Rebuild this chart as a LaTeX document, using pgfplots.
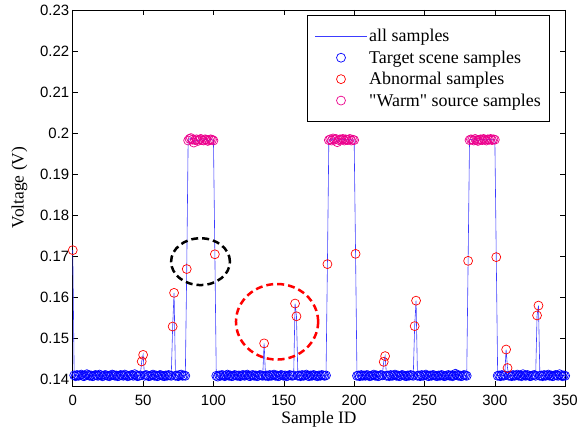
\documentclass[border=0pt]{standalone}
\usepackage{fontspec}
\setmainfont{Liberation Serif}[Ligatures=TeXOff]
\setsansfont{Liberation Sans}
\usepackage{pgfplots}
\usepackage{pgfplotstable}
\pgfplotsset{compat=1.18}

\pgfplotstableread[row sep=\\]{
x y c\\
0 0.1715 1\\ 1 0.1410 0\\ 2 0.1408 0\\ 3 0.1411 0\\ 4 0.1409 0\\ 5 0.1410 0\\ 6 0.1412 0\\ 7 0.1409 0\\ 8 0.1408 0\\ 9 0.1410 0\\
10 0.1413 0\\ 11 0.1411 0\\ 12 0.1409 0\\ 13 0.1410 0\\ 14 0.1408 0\\ 15 0.1409 0\\ 16 0.1411 0\\ 17 0.1410 0\\ 18 0.1409 0\\ 19 0.1412 0\\
20 0.1410 0\\ 21 0.1408 0\\ 22 0.1409 0\\ 23 0.1411 0\\ 24 0.1410 0\\ 25 0.1409 0\\ 26 0.1408 0\\ 27 0.1410 0\\ 28 0.1412 0\\ 29 0.1411 0\\
30 0.1409 0\\ 31 0.1410 0\\ 32 0.1408 0\\ 33 0.1409 0\\ 34 0.1411 0\\ 35 0.1410 0\\ 36 0.1409 0\\ 37 0.1412 0\\ 38 0.1410 0\\ 39 0.1408 0\\
40 0.1409 0\\ 41 0.1410 0\\ 42 0.1411 0\\ 43 0.1409 0\\ 44 0.1413 0\\ 45 0.1410 0\\ 46 0.1408 0\\ 47 0.1409 0\\ 48 0.1410 0\\ 49 0.1444 1\\
50 0.1460 1\\ 51 0.1409 0\\ 52 0.1411 0\\ 53 0.1410 0\\ 54 0.1408 0\\ 55 0.1409 0\\ 56 0.1410 0\\ 57 0.1412 0\\ 58 0.1409 0\\ 59 0.1410 0\\
60 0.1408 0\\ 61 0.1409 0\\ 62 0.1411 0\\ 63 0.1410 0\\ 64 0.1409 0\\ 65 0.1408 0\\ 66 0.1410 0\\ 67 0.1409 0\\ 68 0.1411 0\\ 69 0.1410 0\\
70 0.1409 0\\ 71 0.1529 1\\ 72 0.1611 1\\ 73 0.1409 0\\ 74 0.1410 0\\ 75 0.1408 0\\ 76 0.1411 0\\ 77 0.1412 0\\ 78 0.1409 0\\ 79 0.1410 0\\
80 0.1409 0\\ 81 0.1669 1\\ 82 0.1982 2\\ 83 0.1986 2\\ 84 0.1988 2\\ 85 0.1984 2\\ 86 0.1977 2\\ 87 0.1983 2\\ 88 0.1985 2\\ 89 0.1981 2\\
90 0.1984 2\\ 91 0.1986 2\\ 92 0.1983 2\\ 93 0.1982 2\\ 94 0.1985 2\\ 95 0.1984 2\\ 96 0.1981 2\\ 97 0.1983 2\\ 98 0.1985 2\\ 99 0.1984 2\\
100 0.1982 2\\ 101 0.1705 1\\ 102 0.1409 0\\ 103 0.1407 0\\ 104 0.1410 0\\ 105 0.1409 0\\ 106 0.1411 0\\ 107 0.1410 0\\ 108 0.1408 0\\ 109 0.1410 0\\
110 0.1412 0\\ 111 0.1409 0\\ 112 0.1410 0\\ 113 0.1408 0\\ 114 0.1409 0\\ 115 0.1411 0\\ 116 0.1410 0\\ 117 0.1409 0\\ 118 0.1410 0\\ 119 0.1408 0\\
120 0.1410 0\\ 121 0.1411 0\\ 122 0.1409 0\\ 123 0.1410 0\\ 124 0.1412 0\\ 125 0.1409 0\\ 126 0.1408 0\\ 127 0.1410 0\\ 128 0.1411 0\\ 129 0.1409 0\\
130 0.1410 0\\ 131 0.1408 0\\ 132 0.1409 0\\ 133 0.1411 0\\ 134 0.1410 0\\ 135 0.1409 0\\ 136 0.1488 1\\ 137 0.1409 0\\ 138 0.1410 0\\ 139 0.1408 0\\
140 0.1411 0\\ 141 0.1409 0\\ 142 0.1410 0\\ 143 0.1412 0\\ 144 0.1409 0\\ 145 0.1410 0\\ 146 0.1408 0\\ 147 0.1409 0\\ 148 0.1411 0\\ 149 0.1410 0\\
150 0.1409 0\\ 151 0.1410 0\\ 152 0.1408 0\\ 153 0.1409 0\\ 154 0.1411 0\\ 155 0.1410 0\\ 156 0.1409 0\\ 157 0.1410 0\\ 158 0.1585 1\\ 159 0.1554 1\\
160 0.1409 0\\ 161 0.1410 0\\ 162 0.1408 0\\ 163 0.1411 0\\ 164 0.1409 0\\ 165 0.1410 0\\ 166 0.1412 0\\ 167 0.1409 0\\ 168 0.1408 0\\ 169 0.1410 0\\
170 0.1409 0\\ 171 0.1411 0\\ 172 0.1410 0\\ 173 0.1409 0\\ 174 0.1408 0\\ 175 0.1410 0\\ 176 0.1409 0\\ 177 0.1411 0\\ 178 0.1410 0\\ 179 0.1409 0\\
180 0.1410 0\\ 181 0.1681 1\\ 182 0.1983 2\\ 183 0.1985 2\\ 184 0.1982 2\\ 185 0.1987 2\\ 186 0.1984 2\\ 187 0.1986 2\\ 188 0.1978 2\\ 189 0.1983 2\\
190 0.1985 2\\ 191 0.1984 2\\ 192 0.1986 2\\ 193 0.1982 2\\ 194 0.1985 2\\ 195 0.1983 2\\ 196 0.1984 2\\ 197 0.1986 2\\ 198 0.1982 2\\ 199 0.1984 2\\
200 0.1983 2\\ 201 0.1706 1\\ 202 0.1409 0\\ 203 0.1410 0\\ 204 0.1408 0\\ 205 0.1411 0\\ 206 0.1409 0\\ 207 0.1410 0\\ 208 0.1409 0\\ 209 0.1411 0\\
210 0.1410 0\\ 211 0.1408 0\\ 212 0.1409 0\\ 213 0.1410 0\\ 214 0.1412 0\\ 215 0.1409 0\\ 216 0.1410 0\\ 217 0.1408 0\\ 218 0.1409 0\\ 219 0.1411 0\\
220 0.1410 0\\ 221 0.1443 1\\ 222 0.1457 1\\ 223 0.1409 0\\ 224 0.1410 0\\ 225 0.1408 0\\ 226 0.1411 0\\ 227 0.1409 0\\ 228 0.1410 0\\ 229 0.1412 0\\
230 0.1409 0\\ 231 0.1410 0\\ 232 0.1408 0\\ 233 0.1409 0\\ 234 0.1411 0\\ 235 0.1410 0\\ 236 0.1409 0\\ 237 0.1408 0\\ 238 0.1410 0\\ 239 0.1409 0\\
240 0.1411 0\\ 241 0.1410 0\\ 242 0.1409 0\\ 243 0.1530 1\\ 244 0.1592 1\\ 245 0.1409 0\\ 246 0.1410 0\\ 247 0.1408 0\\ 248 0.1411 0\\ 249 0.1409 0\\
250 0.1410 0\\ 251 0.1412 0\\ 252 0.1409 0\\ 253 0.1408 0\\ 254 0.1410 0\\ 255 0.1409 0\\ 256 0.1411 0\\ 257 0.1410 0\\ 258 0.1409 0\\ 259 0.1408 0\\
260 0.1410 0\\ 261 0.1409 0\\ 262 0.1411 0\\ 263 0.1410 0\\ 264 0.1408 0\\ 265 0.1409 0\\ 266 0.1410 0\\ 267 0.1411 0\\ 268 0.1409 0\\ 269 0.1410 0\\
270 0.1408 0\\ 271 0.1410 0\\ 272 0.1414 0\\ 273 0.1411 0\\ 274 0.1409 0\\ 275 0.1410 0\\ 276 0.1408 0\\ 277 0.1409 0\\ 278 0.1411 0\\ 279 0.1410 0\\
280 0.1409 0\\ 281 0.1689 1\\ 282 0.1983 2\\ 283 0.1985 2\\ 284 0.1984 2\\ 285 0.1982 2\\ 286 0.1986 2\\ 287 0.1983 2\\ 288 0.1981 2\\ 289 0.1984 2\\
290 0.1985 2\\ 291 0.1983 2\\ 292 0.1986 2\\ 293 0.1984 2\\ 294 0.1982 2\\ 295 0.1985 2\\ 296 0.1984 2\\ 297 0.1986 2\\ 298 0.1983 2\\ 299 0.1985 2\\
300 0.1984 2\\ 301 0.1698 1\\ 302 0.1409 0\\ 303 0.1410 0\\ 304 0.1408 0\\ 305 0.1411 0\\ 306 0.1409 0\\ 307 0.1410 0\\ 308 0.1473 1\\ 309 0.1428 1\\
310 0.1409 0\\ 311 0.1410 0\\ 312 0.1408 0\\ 313 0.1411 0\\ 314 0.1409 0\\ 315 0.1410 0\\ 316 0.1412 0\\ 317 0.1409 0\\ 318 0.1410 0\\ 319 0.1408 0\\
320 0.1413 0\\ 321 0.1410 0\\ 322 0.1409 0\\ 323 0.1411 0\\ 324 0.1410 0\\ 325 0.1408 0\\ 326 0.1409 0\\ 327 0.1410 0\\ 328 0.1411 0\\ 329 0.1409 0\\
330 0.1556 1\\ 331 0.1580 1\\ 332 0.1409 0\\ 333 0.1410 0\\ 334 0.1408 0\\ 335 0.1411 0\\ 336 0.1409 0\\ 337 0.1410 0\\ 338 0.1412 0\\ 339 0.1409 0\\
340 0.1410 0\\ 341 0.1408 0\\ 342 0.1409 0\\ 343 0.1411 0\\ 344 0.1410 0\\ 345 0.1409 0\\ 346 0.1413 0\\ 347 0.1410 0\\ 348 0.1408 0\\ 349 0.1410 0\\
350 0.1409 0\\
}\data

\definecolor{lineblue}{RGB}{60,60,255}

\begin{document}
\begin{tikzpicture}
\begin{axis}[
  name=ax,
  scale only axis,
  width=494pt, height=377.3pt,
  xmin=0, xmax=350, ymin=0.1384, ymax=0.23,
  xtick={0,50,100,150,200,250,300,350},
  ytick={0.14,0.15,0.16,0.17,0.18,0.19,0.2,0.21,0.22,0.23},
  scaled y ticks=false,
  yticklabel style={/pgf/number format/fixed,/pgf/number format/precision=2},
  xticklabel style={yshift=-5pt},
  /pgf/number format/assume math mode=true,
  tick label style={font=\fontsize{15}{18}\selectfont\sffamily},
  label style={font=\fontsize{17.5}{21}\selectfont},
  xlabel={Sample ID},
  ylabel={Voltage (V)},
  xlabel style={at={(axis description cs:0.5,0)}, anchor=north, yshift=-22pt},
  ylabel style={at={(axis description cs:-0.085,0.528)}, anchor=south},
  tick align=inside,
  major tick length=5pt,
  axis line style={line width=0.8pt},
  tick style={line width=0.6pt, black},
  clip=false,
  legend style={at={(0.9696,0.9867)}, anchor=north east,
    font=\fontsize{18}{21}\selectfont, draw=black, line width=0.8pt,
    inner xsep=7pt, inner ysep=12pt, row sep=3.5pt,
    cells={anchor=west}},
  legend image code/.code={
    \draw[mark repeat=2,mark phase=2,#1] plot coordinates {(0pt,0pt) (26pt,0pt) (52pt,0pt)};
  },
]
\addplot[draw=lineblue, line width=0.6pt, mark=none] table[x=x,y=y] {\data};
\addlegendentry{all samples}
\addplot[only marks, mark=o, mark size=4.5pt, color=blue, mark options={line width=0.7pt}, restrict expr to domain={\thisrow{c}}{-0.5:0.5}] table[x=x,y=y] {\data};
\addlegendentry{Target scene samples}
\addplot[only marks, mark=o, mark size=4.5pt, color=red, mark options={line width=0.7pt}, restrict expr to domain={\thisrow{c}}{0.5:1.5}] table[x=x,y=y] {\data};
\addlegendentry{Abnormal samples}
\addplot[only marks, mark=o, mark size=4.5pt, color=magenta, mark options={line width=0.7pt}, restrict expr to domain={\thisrow{c}}{1.5:2.5}] table[x=x,y=y] {\data};
\addlegendentry{"Warm" source samples}
\draw[black, line width=2.5pt, dash pattern=on 7pt off 4pt] (axis cs:90.8,0.1687) ellipse [x radius=20.9, y radius=0.0057];
\draw[red, line width=2.5pt, dash pattern=on 7pt off 4pt] (axis cs:145.2,0.15406) ellipse [x radius=29.2, y radius=0.0092];
\end{axis}
\path (ax.south west) +(-73pt,-51.7pt) (ax.north east) +(14pt,10pt);
\end{tikzpicture}
\end{document}
